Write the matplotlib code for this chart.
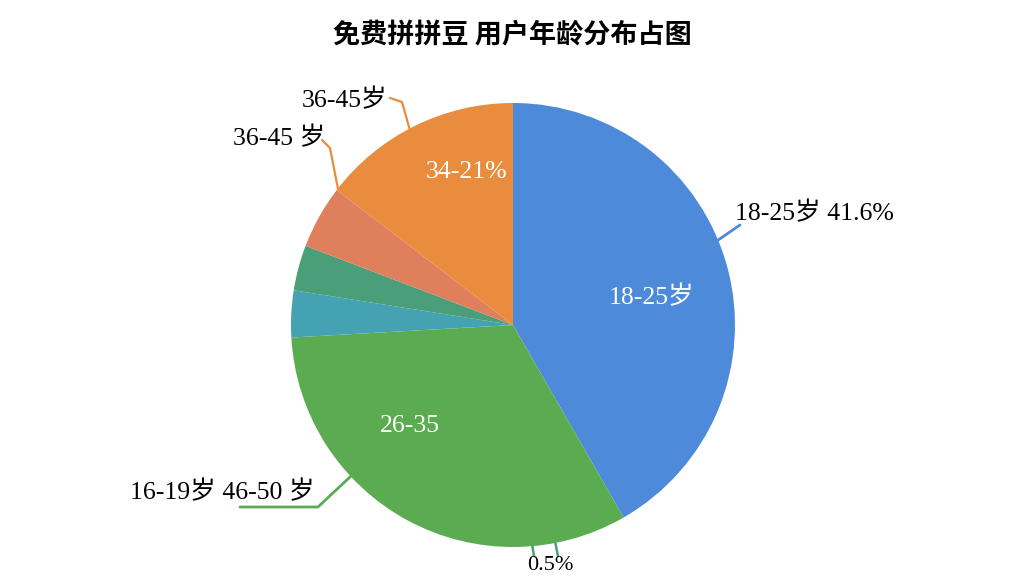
import matplotlib
matplotlib.use("Agg")
import matplotlib.pyplot as plt
import numpy as np

plt.rcParams['font.family'] = ['Liberation Serif', 'Noto Sans CJK SC', 'DejaVu Sans']

title = "免费拼拼豆 用户年龄分布占图"
categories = ["18-25岁", "26-35岁", "16-19岁", "46-50岁", "50岁以上", "36-45岁"]
values = [41.7, 32.4, 3.4, 3.3, 4.6, 14.6]
colors = ["#4d8ad9", "#5bac50", "#45a2b2", "#4a9f78", "#df7f5c", "#e98c3e"]
inner_labels = ["18-25岁", "26-35", "", "", "", "34-21%"]
outer_labels = ["18-25岁 41.6%", "16-19岁 46-50 岁", "0.5%", "36-45 岁", "36-45岁"]

fig = plt.figure(figsize=(10.24, 5.76), dpi=100)
fig.patch.set_facecolor("white")
R = 222
cx, cy = 513, 325
ax = fig.add_axes([(cx - R) / 1024, (576 - cy - R) / 576, 2 * R / 1024, 2 * R / 576])
wedges, _ = ax.pie(values, colors=colors, startangle=90, counterclock=False,
                   radius=1.0, wedgeprops=dict(linewidth=0))
ax.set_xlim(-1, 1)
ax.set_ylim(-1, 1)
ax.set_aspect("equal")
ax.axis("off")

def px(x, y):
    return ((x - cx) / R, (cy - y) / R)

# inside labels
inner_pos = {0: px(652, 297), 1: px(410, 426), 5: px(467, 172)}
for i, (x, y) in inner_pos.items():
    ax.text(x, y, inner_labels[i], color="white", fontsize=18.5, ha="center", va="center")

def leader(theta_deg, pts, color, lw=2.0):
    t = np.deg2rad(theta_deg)
    xs = [np.cos(t)] + [p[0] for p in pts]
    ys = [np.sin(t)] + [p[1] for p in pts]
    ax.plot(xs, ys, color=color, lw=lw, clip_on=False, solid_capstyle="round")

FS = 18.5

# blue outer label
leader(22.5, [px(740, 225)], colors[0])
tx, ty = px(735, 213)
ax.text(tx, ty, outer_labels[0], fontsize=FS, ha="left", va="center")

# green outer label (lower left)
leader(223, [px(318, 507), px(240, 507)], colors[1])
tx, ty = px(315, 492)
ax.text(tx, ty, outer_labels[1], fontsize=FS, ha="right", va="center")

# bottom small label
leader(-85, [px(534, 556)], "#4aa07a", lw=1.8)
leader(-79, [px(558, 556)], "#4aa07a", lw=1.8)
tx, ty = px(550, 565)
ax.text(tx, ty, outer_labels[2], fontsize=16, ha="center", va="center")

# salmon / orange boundary label
ws = wedges[4]
leader(ws.theta1 - 0.5, [px(330, 148), px(322, 140)], colors[5], lw=1.6)
tx, ty = px(325, 138)
ax.text(tx, ty, outer_labels[3], fontsize=FS, ha="right", va="center")

# orange top label
leader(117.8, [px(402, 102), px(390, 98)], colors[5], lw=1.6)
tx, ty = px(345, 100)
ax.text(tx, ty, outer_labels[4], fontsize=FS, ha="center", va="center")

fig.text(0.5, 1 - 35 / 576, title, fontsize=19.5, ha="center", va="center",
         family=['Noto Sans CJK SC', 'DejaVu Sans'], weight="bold")

fig.savefig("out.png", dpi=100, facecolor="white")
